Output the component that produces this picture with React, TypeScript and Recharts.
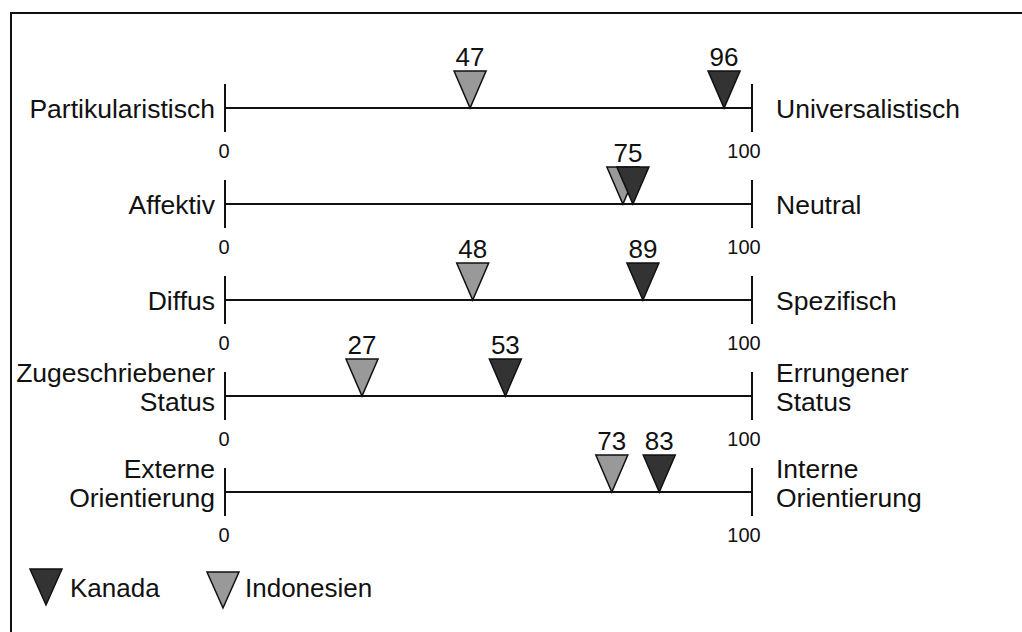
import React from 'react';
import { ScatterChart, Scatter, XAxis, YAxis, ReferenceLine, Legend } from 'recharts';

const leftLabels = ['Partikularistisch', 'Affektiv', 'Diffus', 'Zugeschriebener\nStatus', 'Externe\nOrientierung'];
const rightLabels = ['Universalistisch', 'Neutral', 'Spezifisch', 'Errungener\nStatus', 'Interne\nOrientierung'];
const scaleEnds = [0, 100];

// scores printed above the markers
const kanadaScores = [96, 75, 89, 53, 83];
const indonesienScores = [47, 75, 48, 27, 73];
// where the markers sit on each line (read off the picture, not always = score)
const kanadaPos = [94.7, 77.4, 79.3, 53.2, 82.4];
const indonesienPos = [46.5, 75.5, 47, 26, 73.4];

const countries = ['Kanada', 'Indonesien'];
const fills: Record<string, string> = { Kanada: '#333333', Indonesien: '#999999' };

const W = 1022;
const H = 632;
const M = { top: 108, right: 270, bottom: 140, left: 225 };
const pxPerUnit = (W - M.left - M.right) / (scaleEnds[1] - scaleEnds[0]);
const font = '"Liberation Sans", Arial, Helvetica, sans-serif';

const rows = leftLabels.map((_, i) => ({ row: i }));
const kanadaData = rows.map((r, i) => ({ ...r, x: kanadaPos[i], score: kanadaScores[i], otherPos: indonesienPos[i], otherScore: indonesienScores[i] }));
const indonesienData = rows.map((r, i) => ({ ...r, x: indonesienPos[i], score: indonesienScores[i], otherPos: kanadaPos[i], otherScore: kanadaScores[i] }));
const endData = rows.flatMap((r, i) => [
  { ...r, x: scaleEnds[0], side: 'left', text: leftLabels[i] },
  { ...r, x: scaleEnds[1], side: 'right', text: rightLabels[i] },
]);

const sameSpot = (p: any) => p.score === p.otherScore && Math.abs(p.x - p.otherPos) < 5;

const makeMarker = (name: string) => (props: any) => {
  const { cx, cy, payload } = props;
  let label: React.ReactNode = null;
  if (sameSpot(payload)) {
    // both countries share one value: print it once, between the two markers
    if (name === 'Kanada') {
      const lx = cx + ((payload.otherPos - payload.x) / 2) * pxPerUnit;
      label = <text x={lx} y={cy - 42} textAnchor="middle" fontSize={26} fill="#111">{payload.score}</text>;
    }
  } else {
    label = <text x={cx} y={cy - 42} textAnchor="middle" fontSize={26} fill="#111">{payload.score}</text>;
  }
  return (
    <g fontFamily={font}>
      <polygon points={`${cx - 16},${cy - 37} ${cx + 16},${cy - 37} ${cx},${cy}`} fill={fills[name]} stroke="#111" strokeWidth={1.5} />
      {label}
    </g>
  );
};

const EndTick = (props: any) => {
  const { cx, cy, payload } = props;
  const lines: string[] = payload.text.split('\n');
  const isLeft = payload.side === 'left';
  const tx = isLeft ? cx - 10 : cx + 24;
  const base = lines.length === 1 ? [cy + 10] : [cy - 14, cy + 15];
  return (
    <g fontFamily={font} fill="#111">
      <line x1={cx} x2={cx} y1={cy - 24} y2={cy + 24} stroke="#111" strokeWidth={2} />
      <text x={isLeft ? cx - 1 : cx - 8} y={cy + 50} textAnchor="middle" fontSize={20}>
        {isLeft ? scaleEnds[0] : scaleEnds[1]}
      </text>
      {lines.map((t, k) => (
        <text key={k} x={tx} y={base[k]} textAnchor={isLeft ? 'end' : 'start'} fontSize={26.5}>{t}</text>
      ))}
    </g>
  );
};

const renderLegend = () => (
  <svg width={400} height={60} style={{ overflow: 'visible', display: 'block' }}>
    <g fontFamily={font} fontSize={26} fill="#111">
      {countries.map((c, i) => {
        const x0 = i === 0 ? 30 : 207;
        const y0 = i === 0 ? 9 : 12;
        return (
          <g key={c}>
            <polygon points={`${x0},${y0} ${x0 + 32},${y0} ${x0 + 16},${y0 + 36}`} fill={fills[c]} stroke="#111" strokeWidth={1.5} />
            <text x={x0 + (i === 0 ? 40 : 38)} y={37}>{c}</text>
          </g>
        );
      })}
    </g>
  </svg>
);

export default function App() {
  return (
    <div style={{ position: 'absolute', left: 0, top: 0, width: W, height: H, overflow: 'hidden', background: '#fff' }}>
      <div style={{ position: 'absolute', left: 10, top: 12, width: W + 40, height: H + 40, border: '2px solid #111', boxSizing: 'border-box' }} />
      <div style={{ position: 'absolute', left: 0, top: 0 }}>
        <ScatterChart width={W} height={H} margin={M}>
          <XAxis type="number" dataKey="x" domain={scaleEnds} hide />
          <YAxis type="number" dataKey="row" domain={[0, rows.length - 1]} reversed hide />
          {rows.map((r) => (
            <ReferenceLine
              key={r.row}
              segment={[{ x: scaleEnds[0], y: r.row }, { x: scaleEnds[1], y: r.row }]}
              stroke="#111"
              strokeWidth={2}
              ifOverflow="visible"
            />
          ))}
          <Scatter name="Enden" data={endData} shape={EndTick} isAnimationActive={false} legendType="none" />
          <Scatter name="Indonesien" data={indonesienData} shape={makeMarker('Indonesien')} isAnimationActive={false} />
          <Scatter name="Kanada" data={kanadaData} shape={makeMarker('Kanada')} isAnimationActive={false} />
          <Legend
            content={renderLegend}
            wrapperStyle={{ position: 'absolute', left: 0, top: 560, width: 400, height: 0, overflow: 'visible' }}
          />
        </ScatterChart>
      </div>
    </div>
  );
}
